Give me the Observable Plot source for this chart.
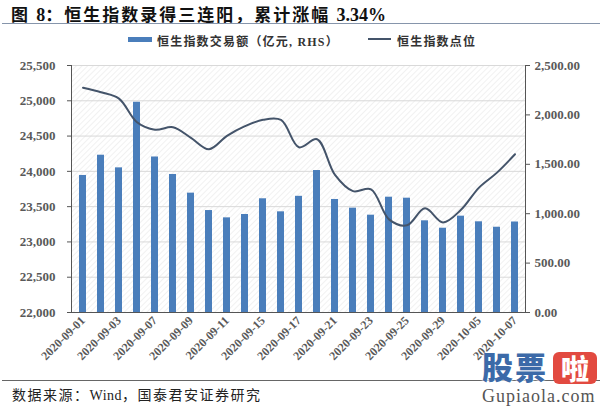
<!DOCTYPE html>
<html>
<head>
<meta charset="utf-8">
<script src="https://cdn.jsdelivr.net/npm/d3@7"></script>
<script src="https://cdn.jsdelivr.net/npm/@observablehq/plot@0.6"></script>
<style>
  html, body { margin:0; padding:0; background:#fff; }
  body { width:600px; height:409px; overflow:hidden; position:relative;
         font-family:"Liberation Serif","Noto Sans CJK SC",serif; color:#222; }
  #title { position:absolute; left:11px; top:1px; font-size:17px; font-weight:bold;
           letter-spacing:2px; white-space:nowrap; color:#111; }
  #title .lat { letter-spacing:0; font-size:18px; }
  #rule1 { position:absolute; left:2px; top:23px; width:598px; border-top:1.5px solid #8695ab; }
  #legend { position:absolute; left:0; top:31px; width:600px; height:18px; font-size:12px;
            white-space:nowrap; color:#333; font-weight:bold; }
  .sw { position:absolute; }
  .lt { position:absolute; top:1px; letter-spacing:1.2px; }
  #chart { position:absolute; left:0; top:50px; }
  #rule2 { position:absolute; left:2px; top:380px; width:598px; border-top:1px solid #666; }
  #source { position:absolute; left:12px; top:384px; font-size:14px; letter-spacing:1.5px;
            white-space:nowrap; color:#222; }
  #source .lat { letter-spacing:0.5px; }
  #wm { position:absolute; left:480px; top:350px; width:120px; height:59px; }
  #wm .gp { position:absolute; left:2px; top:-2px; font-family:"Noto Sans CJK SC"; font-weight:900;
            font-size:31px; color:#3c6aa8; letter-spacing:2px; line-height:36px;
            text-shadow:0 0 2px #fff,0 0 3px #fff; }
  #wm .la { position:absolute; left:73px; top:2px; width:44px; height:32px; background:#e24a40;
            border-radius:6px; color:#fff; font-family:"Noto Sans CJK SC"; font-weight:900;
            font-size:28px; line-height:32px; text-align:center; }
  #wm .url { position:absolute; left:2px; top:36px; font-size:18px; color:#555;
             font-family:"Liberation Serif"; letter-spacing:1px; }
</style>
</head>
<body>
<div id="title">图 <span class="lat">8</span>：恒生指数录得三连阳，累计涨幅 <span class="lat">3.34%</span></div>
<div id="rule1"></div>
<div id="legend">
  <div class="sw" style="left:128px;top:6px;width:24px;height:5px;background:#4a7ebb;"></div>
  <div class="lt" style="left:157px;">恒生指数交易额（亿元, RHS）</div>
  <div class="sw" style="left:368px;top:7px;width:23px;height:2px;background:#44546a;"></div>
  <div class="lt" style="left:397px;">恒生指数点位</div>
</div>
<div id="chart"></div>
<div id="rule2"></div>
<div id="source">数据来源：<span class="lat">Wind</span>，国泰君安证券研究</div>
<div id="wm"><div class="gp">股票</div><div class="la">啦</div><div class="url">Gupiaola.com</div></div>
<script>
// ---- data ----
const dates = ["2020-09-01","2020-09-02","2020-09-03","2020-09-04","2020-09-07","2020-09-08",
  "2020-09-09","2020-09-10","2020-09-11","2020-09-14","2020-09-15","2020-09-16","2020-09-17",
  "2020-09-18","2020-09-21","2020-09-22","2020-09-23","2020-09-24","2020-09-25","2020-09-28",
  "2020-09-29","2020-09-30","2020-10-05","2020-10-06","2020-10-07"];
const hsiPoints = [25185,25121,25030,24695,24590,24625,24475,24314,24503,24640,24730,24728,24341,
  24455,23950,23720,23745,23320,23235,23476,23277,23455,23770,23982,24242];
const turnover = [1387,1592,1464,2128,1574,1397,1208,1032,958,992,1151,1019,1176,
  1437,1144,1056,985,1167,1157,928,853,975,918,863,916];
const leftTicks = [22000,22500,23000,23500,24000,24500,25000,25500];
const rightTicks = [0,500,1000,1500,2000,2500];
const xTickLabels = dates.filter((d,i) => i % 2 === 0);

// ---- scales for the secondary (right) axis ----
const L0 = 22000, L1 = 25500, R0 = 0, R1 = 2500;
const toLeft = v => L0 + (v - R0) * (L1 - L0) / (R1 - R0);
const fromLeft = v => R0 + (v - L0) * (R1 - R0) / (L1 - L0);

const rows = dates.map((d,i) => ({date:d, hsi:hsiPoints[i], amt:turnover[i]}));

const tickFont = {fontFamily:"Liberation Serif", fontSize:13, fontWeight:"bold", fill:"#595959"};

const chart = Plot.plot({
  width:600, height:330,
  marginTop:15, marginBottom:68, marginLeft:71, marginRight:75,
  style:{background:"transparent", overflow:"visible"},
  x:{type:"band", domain:dates, paddingInner:0.62, paddingOuter:0.31, axis:null},
  y:{domain:[L0, L1], axis:null},
  marks:[
    Plot.frame({fill:"url(#hatch)", stroke:null}),
    Plot.gridY(leftTicks, {stroke:"#d9d9d9", strokeOpacity:1, strokeWidth:1}),
    Plot.barY(rows, {x:"date", y1:L0, y2:d => toLeft(d.amt), fill:"#4a7ebb"}),
    Plot.line(rows, {x:"date", y:"hsi", curve:"catmull-rom", stroke:"#44546a", strokeWidth:2}),
    Plot.frame({anchor:"left", stroke:"#555"}),
    Plot.frame({anchor:"right", stroke:"#555"}),
    Plot.frame({anchor:"bottom", stroke:"#555"}),
    Plot.axisY({ticks:leftTicks, anchor:"left", label:null, tickSize:4, tickPadding:12, stroke:"#555",
      tickFormat:d3.format(","), ...tickFont}),
    Plot.axisY({ticks:rightTicks.map(toLeft), anchor:"right", label:null, tickSize:4, tickPadding:5, stroke:"#555",
      tickFormat:d => d3.format(",.2f")(fromLeft(d)), ...tickFont}),
    Plot.axisX({ticks:xTickLabels, anchor:"bottom", label:null, tickSize:0, tickPadding:6, tickRotate:-45,
      ...tickFont, fontSize:12})
  ]
});

const svg = d3.select(chart);
const defs = svg.insert("defs", ":first-child");
const pat = defs.append("pattern").attr("id","hatch").attr("patternUnits","userSpaceOnUse")
  .attr("width",4).attr("height",4).attr("patternTransform","rotate(45)");
pat.append("rect").attr("width",4).attr("height",4).attr("fill","#fff");
pat.append("line").attr("x1",0).attr("y1",0).attr("x2",0).attr("y2",4)
  .attr("stroke","#ededed").attr("stroke-width",1.5);

document.getElementById("chart").appendChild(chart);
</script>
</body>
</html>
